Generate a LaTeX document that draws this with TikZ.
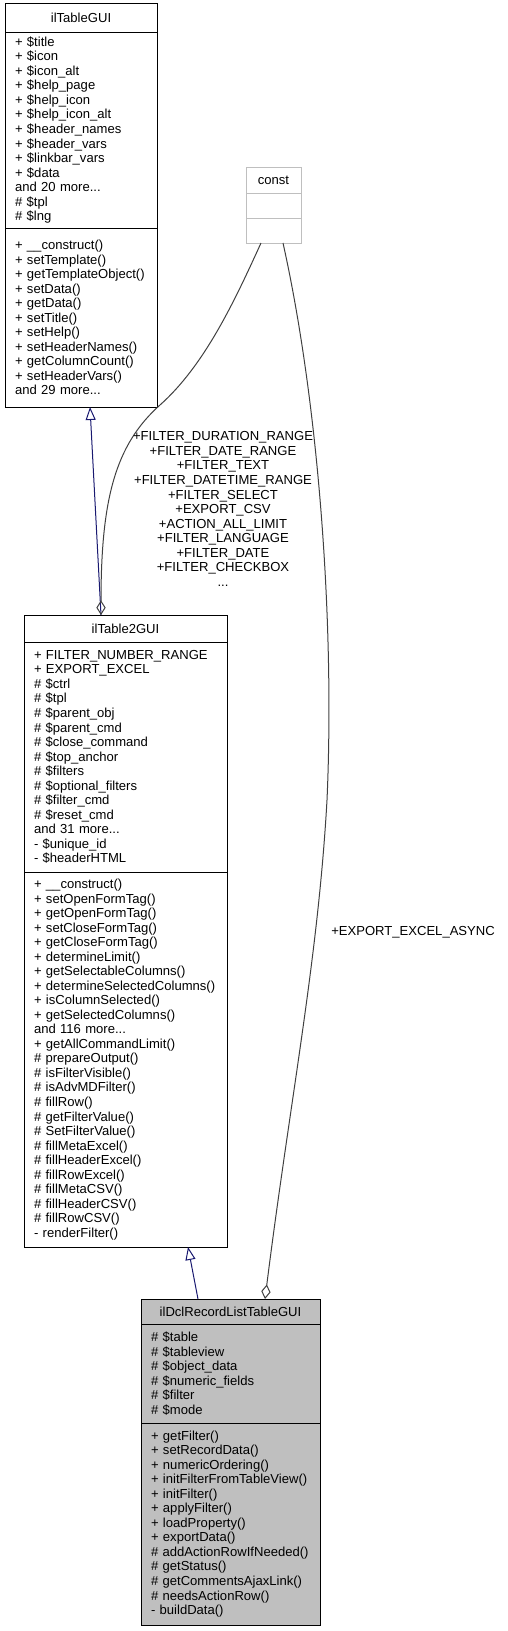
\documentclass[tikz,border=0pt]{standalone}
\usepackage{fontspec}
\setmainfont{Liberation Sans}
\usetikzlibrary{arrows.meta,positioning}
\definecolor{edgegray}{HTML}{404040}
\definecolor{inhblue}{HTML}{191970}
\definecolor{boxgray}{HTML}{BFBFBF}
\hyphenpenalty=10000
\exhyphenpenalty=10000
\begin{document}
\begin{tikzpicture}[x=0.75pt,y=-0.75pt,
  font=\fontsize{9.8}{10.9}\selectfont,
  cls/.style={draw,line width=0.75pt,anchor=north west,inner sep=0pt,outer sep=0pt,align=center},
  members/.style={cls,inner xsep=7.5pt,align=left},
  inherit/.style={inhblue,line width=0.75pt,-{Triangle[open,length=9.75pt,width=7.5pt]}},
  aggr/.style={edgegray,line width=0.75pt,-{Diamond[open,length=11pt,width=7pt]}},
  tag/.style={inner sep=0pt,align=center}]
  \useasboundingbox (0,0) rectangle (507,1631);

  \node[cls,minimum width=114pt,minimum height=21.75pt] (tableTitle) at (5,3) {ilTableGUI};
  \node[members,text width=99pt,minimum height=147pt] (tableAttrs) at (tableTitle.south west)
    {+ \$title\\+ \$icon\\+ \$icon\_alt\\+ \$help\_page\\+ \$help\_icon\\+ \$help\_icon\_alt\\+ \$header\_names\\+ \$header\_vars\\+ \$linkbar\_vars\\+ \$data\\and 20 more...\\\# \$tpl\\\# \$lng};
  \node[members,text width=99pt,minimum height=134.25pt] (tableMethods) at (tableAttrs.south west)
    {+ \_\_construct()\\+ setTemplate()\\+ getTemplateObject()\\+ setData()\\+ getData()\\+ setTitle()\\+ setHelp()\\+ setHeaderNames()\\+ getColumnCount()\\+ setHeaderVars()\\and 29 more...};

  \node[cls,draw=boxgray,minimum width=41.25pt,minimum height=19.5pt] (constTitle) at (246,167) {const};
  \node[cls,draw=boxgray,minimum width=41.25pt,minimum height=18.75pt] (constAttrs) at (constTitle.south west) {};
  \node[cls,draw=boxgray,minimum width=41.25pt,minimum height=18.75pt] (constMethods) at (constAttrs.south west) {};

  \node[cls,minimum width=152.25pt,minimum height=20.25pt] (tableTwoTitle) at (24,615) {ilTable2GUI};
  \node[members,text width=137.25pt,minimum height=172.5pt] (tableTwoAttrs) at (tableTwoTitle.south west)
    {+ FILTER\_NUMBER\_RANGE\\+ EXPORT\_EXCEL\\\# \$ctrl\\\# \$tpl\\\# \$parent\_obj\\\# \$parent\_cmd\\\# \$close\_command\\\# \$top\_anchor\\\# \$filters\\\# \$optional\_filters\\\# \$filter\_cmd\\\# \$reset\_cmd\\and 31 more...\\- \$unique\_id\\- \$headerHTML};
  \node[members,text width=137.25pt,minimum height=281.25pt] (tableTwoMethods) at (tableTwoAttrs.south west)
    {+ \_\_construct()\\+ setOpenFormTag()\\+ getOpenFormTag()\\+ setCloseFormTag()\\+ getCloseFormTag()\\+ determineLimit()\\+ getSelectableColumns()\\+ determineSelectedColumns()\\+ isColumnSelected()\\+ getSelectedColumns()\\and 116 more...\\+ getAllCommandLimit()\\\# prepareOutput()\\\# isFilterVisible()\\\# isAdvMDFilter()\\\# fillRow()\\\# getFilterValue()\\\# SetFilterValue()\\\# fillMetaExcel()\\\# fillHeaderExcel()\\\# fillRowExcel()\\\# fillMetaCSV()\\\# fillHeaderCSV()\\\# fillRowCSV()\\- renderFilter()};

  \node[cls,fill=boxgray,minimum width=134.25pt,minimum height=18.75pt] (dclTitle) at (141,1299) {ilDclRecordListTableGUI};
  \node[members,fill=boxgray,text width=119.25pt,minimum height=74.25pt] (dclAttrs) at (dclTitle.south west)
    {\# \$table\\\# \$tableview\\\# \$object\_data\\\# \$numeric\_fields\\\# \$filter\\\# \$mode};
  \node[members,fill=boxgray,text width=119.25pt,minimum height=151.5pt] (dclMethods) at (dclAttrs.south west)
    {+ getFilter()\\+ setRecordData()\\+ numericOrdering()\\+ initFilterFromTableView()\\+ initFilter()\\+ applyFilter()\\+ loadProperty()\\+ exportData()\\\# addActionRowIfNeeded()\\\# getStatus()\\\# getCommentsAjaxLink()\\\# needsActionRow()\\- buildData()};

  \draw[inherit] ([xshift=57.75pt]tableTwoTitle.north west) -- ([xshift=63.75pt]tableMethods.south west);
  \draw[inherit] ([xshift=42.75pt]dclTitle.north west) -- ([xshift=123pt]tableTwoMethods.south west);
  \draw[aggr] ([xshift=11.25pt]constMethods.south west) .. controls (235,300) and (205,365) .. (160,405)
    .. controls (115,445) and (101,500) .. ([xshift=57.75pt]tableTwoTitle.north west);
  \draw[aggr] ([xshift=27.75pt]constMethods.south west) .. controls (318,400) and (335,620) .. (327,800)
    .. controls (318,960) and (290,1100) .. ([xshift=93pt]dclTitle.north west);

  \node[tag] (filterLabel) at (223,509) {+FILTER\_DURATION\_RANGE\\+FILTER\_DATE\_RANGE\\+FILTER\_TEXT\\+FILTER\_DATETIME\_RANGE\\+FILTER\_SELECT\\+EXPORT\_CSV\\+ACTION\_ALL\_LIMIT\\+FILTER\_LANGUAGE\\+FILTER\_DATE\\+FILTER\_CHECKBOX\\...};
  \node[tag,anchor=west] (asyncLabel) at (331,932) {+EXPORT\_EXCEL\_ASYNC};
\end{tikzpicture}
\end{document}
